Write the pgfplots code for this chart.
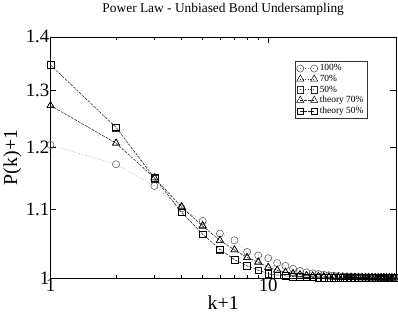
\documentclass[border=0pt]{standalone}
\usepackage{pgfplots}
\pgfplotsset{compat=1.18}
\usepackage{pgfplotstable}
\usepackage{fontspec}
\setmainfont{Liberation Serif}
\pgfplotstableread{
k p100 p70 p50 t70 t50
1 1.204 1.272 1.346 1.272 1.346
2 1.172 1.207 1.233 1.207 1.234
3 1.137 1.150 1.149 1.150 1.150
4 1.102 1.105 1.096 1.104 1.096
5 1.083 1.076 1.063 1.075 1.063
6 1.064 1.054 1.040 1.054 1.041
7 1.054 1.040 1.026 1.040 1.026
8 1.037 1.029 1.017 1.029 1.017
9 1.032 1.023 1.011 1.022 1.011
10 1.028 1.015 1.0055 1.015 1.006
11 1.021 1.011 1.004 1.011 1.004
12 1.017 1.008 1.003 1.008 1.003
13 1.013 1.006 1.002 1.006 1.002
14 1.010 1.0045 1.0015 1.0045 1.0015
15 1.008 1.0035 1.0012 1.0035 1.0012
16 1.0065 1.0028 1.001 1.0028 1.001
17 1.0055 1.0023 1.0008 1.0023 1.0008
18 1.0046 1.0019 1.0007 1.0019 1.0007
19 1.0038 1.0016 1.0006 1.0016 1.0006
20 1.0032 1.0014 1.0005 1.0014 1.0005
21 1.0027 1.0012 1.0005 1.0012 1.0005
22 1.0023 1.0011 1.0004 1.0011 1.0004
23 1.002 1.001 1.0004 1.001 1.0004
24 1.0018 1.0009 1.0004 1.0009 1.0004
25 1.0016 1.0008 1.0003 1.0008 1.0003
26 1.0014 1.0008 1.0003 1.0008 1.0003
27 1.0013 1.0007 1.0003 1.0007 1.0003
28 1.0012 1.0007 1.0003 1.0007 1.0003
29 1.0011 1.0006 1.0003 1.0006 1.0003
30 1.001 1.0006 1.0002 1.0006 1.0002
31 1.0009 1.0005 1.0002 1.0005 1.0002
32 1.0008 1.0005 1.0002 1.0005 1.0002
33 1.0008 1.0005 1.0002 1.0005 1.0002
34 1.0007 1.0004 1.0002 1.0004 1.0002
35 1.0007 1.0004 1.0002 1.0004 1.0002
36 1.0006 1.0004 1.0002 1.0004 1.0002
37 1.0006 1.0004 1.0002 1.0004 1.0002
38 1.0005 1.0003 1.0002 1.0003 1.0002
}\datatable
\begin{document}
\begin{tikzpicture}
\begin{axis}[
  scale only axis, width=348pt, height=243pt,
  xmode=log, ymode=log,
  xmin=1, xmax=38.6, ymin=1, ymax=1.4,
  xtick={1,10}, xticklabels={1,10},
  ytick={1,1.1,1.2,1.3,1.4}, yticklabels={1,1.1,1.2,1.3,1.4},
  minor ytick={},
  tick align=inside,
  major tick length=6pt, minor tick length=3.5pt,
  tick style={black, line width=0.5pt},
  axis line style={line width=0.6pt},
  ticklabel style={font=\fontsize{19}{20}\selectfont},
  yticklabel style={inner sep=1pt},
  xticklabel style={inner sep=0.5pt},
  /pgf/number format/assume math mode=true,
  title={Power Law - Unbiased Bond Undersampling},
  title style={font=\fontsize{13.5}{15}\selectfont, yshift=12pt},
  xlabel={k+1}, ylabel={P(k)+1},
  label style={font=\fontsize{20}{22}\selectfont},
  xlabel style={yshift=0pt},
  ylabel style={yshift=0pt},
  legend style={at={(0.917,0.90)}, anchor=north east, font=\fontsize{9.5}{10.5}\selectfont,
    draw=black!80, line width=0.5pt, inner sep=1.5pt, row sep=-1.2pt, cells={anchor=west}},
  legend image code/.code={\draw[mark repeat=2,mark phase=1,#1] plot coordinates {(0pt,0pt) (7pt,0pt) (14pt,0pt)};},
  every axis plot/.append style={line width=0.5pt},
]
\addplot[black!55, dotted, mark=o, mark size=3.6pt, mark options={solid, black!70, line width=0.5pt}] table[x=k, y=p100] {\datatable};
\addlegendentry{100\%}
\addplot[black!80, dotted, mark=triangle, mark size=4.2pt, mark options={solid, black, line width=0.5pt}] table[x=k, y=p70] {\datatable};
\addlegendentry{70\%}
\addplot[black!80, dotted, mark=square, mark size=3.4pt, mark options={solid, black!85, line width=0.5pt}] table[x=k, y=p50] {\datatable};
\addlegendentry{50\%}
\addplot[black!85, dashed, dash pattern=on 2.5pt off 1.5pt, mark=triangle, mark size=4.2pt, mark options={solid, black, line width=0.5pt}] table[x=k, y=t70] {\datatable};
\addlegendentry{theory 70\%}
\addplot[black!85, dashed, dash pattern=on 2.5pt off 1.5pt, mark=square, mark size=3.4pt, mark options={solid, black, line width=0.5pt}] table[x=k, y=t50] {\datatable};
\addlegendentry{theory 50\%}
\end{axis}
\end{tikzpicture}
\end{document}
